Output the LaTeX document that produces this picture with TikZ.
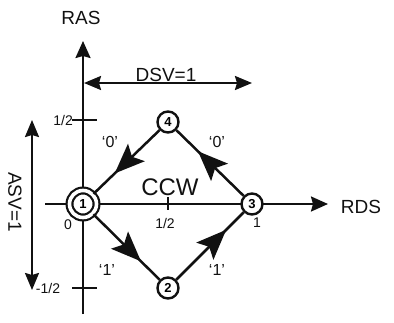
\documentclass[tikz,border=0pt]{standalone}
\usepackage{fontspec}
\setmainfont{Liberation Sans}
\usetikzlibrary{arrows.meta,positioning,decorations.markings,calc}
\definecolor{fsmInk}{HTML}{111111}
\tikzset{
  fsm/state/.style={circle, draw=fsmInk, fill=white, line width=2.4pt, minimum size=21pt,
    inner sep=0pt, font=\fontsize{13}{13}\selectfont\bfseries},
  fsm/start/.style={fsm/state, line width=2.2pt, minimum size=27pt, double, double distance=3.6pt},
  fsm/edge/.style={draw=fsmInk, line width=2.5pt},
  fsm/mid/.style={postaction={decorate, decoration={markings,
    mark=at position #1 with {\arrow{Stealth[length=30pt,width=24pt,inset=6pt]}}}}},
  fsm/axis/.style={-{Stealth[length=17pt,width=15pt,inset=2pt]}, draw=fsmInk,
    line width=2.2pt},
  fsm/dim/.style={{Stealth[length=17pt,width=14pt,inset=2pt]}-{Stealth[length=17pt,width=14pt,inset=2pt]},
    draw=fsmInk, line width=2.2pt},
  fsm/tick/.style={draw=fsmInk, line width=2.2pt},
  fsm/axislabel/.style={font=\fontsize{19}{19}\selectfont, text=fsmInk, inner sep=0pt},
  fsm/ticklabel/.style={font=\fontsize{14}{14}\selectfont, text=fsmInk, inner sep=0pt},
  fsm/edgelabel/.style={font=\fontsize{16}{16}\selectfont, text=fsmInk, inner sep=0pt},
}

\begin{document}
\begin{tikzpicture}[x=1pt, y=-1pt]
\useasboundingbox (0,0) rectangle (394,322);
% axes
\coordinate (rdsL) at (45,204);
\coordinate (rdsR) at (328,204);
\coordinate (rasB) at (83,314);
\coordinate (rasT) at (83,41);
\draw[fsm/axis] (rdsL) -- (rdsR);
\draw[fsm/axis] (rasB) -- (rasT);
\node[fsm/axislabel] (ras) at (81,18) {RAS};
\node[fsm/axislabel] (rds) at (361,207) {RDS};
% ticks
\coordinate (tyA) at (72,120);  \coordinate (tyB) at (97,120);
\coordinate (tyC) at (72,288);  \coordinate (tyD) at (97,288);
\coordinate (txA) at (168,197); \coordinate (txB) at (168,210);
\draw[fsm/tick] (tyA) -- (tyB);
\draw[fsm/tick] (tyC) -- (tyD);
\draw[fsm/tick] (txA) -- (txB);
\node[fsm/ticklabel, anchor=east] (lhalf) at (73,120) {1/2};
\node[fsm/ticklabel] (lmhalf) at (48,288) {-1/2};
\node[fsm/ticklabel] (lzero) at (68,225) {0};
\node[fsm/ticklabel] (xhalf) at (165,223) {1/2};
\node[fsm/ticklabel] (xone) at (257,223) {1};
% dimension arrows
\coordinate (dsvL) at (84,83);
\coordinate (dsvR) at (252,83);
\coordinate (asvT) at (32,120);
\coordinate (asvB) at (32,290);
\draw[fsm/dim] (dsvL) -- (dsvR);
\draw[fsm/dim] (asvT) -- (asvB);
\node[fsm/axislabel, anchor=base] (dsv) at (166,81) {DSV=1};
\node[fsm/axislabel, rotate=-90] (asv) at (15,202) {ASV=1};
% states
\node[fsm/start] (s1) at (83,204) {1};
\node[fsm/state] (s2) at (168,288) {2};
\node[fsm/state] (s3) at (252,204) {3};
\node[fsm/state] (s4) at (168,122) {4};
\draw[fsm/edge, fsm/mid=0.68] (s4) -- (s1);
\draw[fsm/edge, fsm/mid=0.68] (s3) -- (s4);
\draw[fsm/edge, fsm/mid=0.72] (s1) -- (s2);
\draw[fsm/edge, fsm/mid=0.74] (s2) -- (s3);
\node[font=\fontsize{24}{24}\selectfont, text=fsmInk, inner sep=0pt] (ccw) at (170,187) {CCW};
% transition labels
\node[fsm/edgelabel] (e41) at (110,142) {`0'};
\node[fsm/edgelabel] (e34) at (217,142) {`0'};
\node[fsm/edgelabel] (e12) at (107,270) {`1'};
\node[fsm/edgelabel] (e23) at (217,270) {`1'};
\end{tikzpicture}
\end{document}
